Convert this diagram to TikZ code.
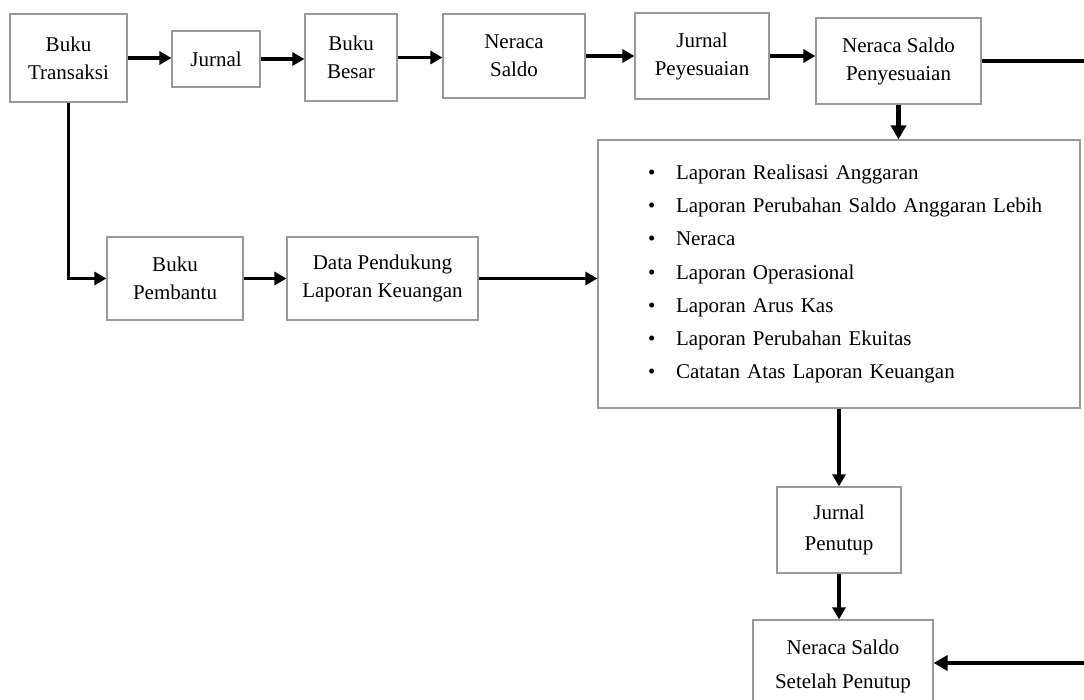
\documentclass[tikz,border=0pt]{standalone}
\usepackage{fontspec}
\setmainfont{Liberation Serif}
\usetikzlibrary{arrows.meta}

\tikzset{
  kotak/.style={draw=black!40, line width=1.2pt, fill=white, align=center, inner sep=2pt},
  panah/.style={line width=3.4pt, -{Triangle[length=12pt,width=13pt]}},
  panahbesar/.style={line width=5pt, -{Triangle[length=14pt,width=15pt]}},
}
\newcommand{\butir}[1]{\hspace*{24pt}\makebox[28pt][l]{\textbullet}#1}

\begin{document}
\begin{tikzpicture}[x=1pt, y=-1pt, font=\fontsize{21}{28}\selectfont]
\useasboundingbox (0,0) rectangle (1084,699);

% baris atas
\node[kotak, minimum width=117pt, minimum height=88pt] (bt) at (68.5,58) {Buku\\Transaksi};
\node[kotak, minimum width=88pt, minimum height=56pt] (jr) at (216,59) {Jurnal};
\node[kotak, minimum width=92pt, minimum height=87pt] (bb) at (351,57.5) {Buku\\Besar};
\node[kotak, minimum width=142pt, minimum height=84pt] (ns) at (514,56) {Neraca\\Saldo};
\node[kotak, minimum width=134pt, minimum height=86pt] (jp) at (702,56) {Jurnal\\Peyesuaian};
\node[kotak, minimum width=165pt, minimum height=86pt] (nsp) at (898.5,61) {Neraca Saldo\\Penyesuaian};

% laporan keuangan
\node[kotak, minimum width=482pt, minimum height=268pt, text width=430pt, inner xsep=26pt, align=left,
      font=\fontsize{21}{33.3}\selectfont] (lap) at (839,274) {%
  \butir{Laporan Realisasi Anggaran}\\
  \butir{Laporan Perubahan Saldo Anggaran Lebih}\\
  \butir{Neraca}\\
  \butir{Laporan Operasional}\\
  \butir{Laporan Arus Kas}\\
  \butir{Laporan Perubahan Ekuitas}\\
  \butir{Catatan Atas Laporan Keuangan}};

% baris tengah
\node[kotak, minimum width=136pt, minimum height=83pt] (bp) at (175,278.5) {Buku\\Pembantu};
\node[kotak, minimum width=191pt, minimum height=83pt] (dp) at (382.5,278.5) {Data Pendukung\\Laporan Keuangan};

% penutupan
\node[kotak, minimum width=124pt, minimum height=86pt, font=\fontsize{21}{31}\selectfont] (jpt) at (839,530) {Jurnal\\Penutup};
\node[kotak, minimum width=180pt, minimum height=92pt, font=\fontsize{21}{34}\selectfont] (nssp) at (843,666) {Neraca Saldo\\Setelah Penutup};

\coordinate (kb) at (1092,663);

% panah
\draw[panah] (bt.east) -- (bt.east -| jr.west);
\draw[panah] (jr.east) -- (jr.east -| bb.west);
\draw[panah] (bb.east) -- (bb.east -| ns.west);
\draw[panah] (ns.east) -- (ns.east -| jp.west);
\draw[panah] (jp.east) -- (jp.east -| nsp.west);
\draw[panahbesar] (nsp.south) -- (nsp.south |- lap.north);
\draw[panah] (bt.south) |- (bp.west);
\draw[panah] (bp.east) -- (bp.east -| dp.west);
\draw[panah] (dp.east) -- (dp.east -| lap.west);
\draw[panah] (lap.south -| jpt.north) -- (jpt.north);
\draw[panah] (jpt.south) -- (jpt.south |- nssp.north);
\draw[panahbesar, line width=3.8pt] (nsp.east) -| (kb) -- (kb -| nssp.east);
\end{tikzpicture}
\end{document}
